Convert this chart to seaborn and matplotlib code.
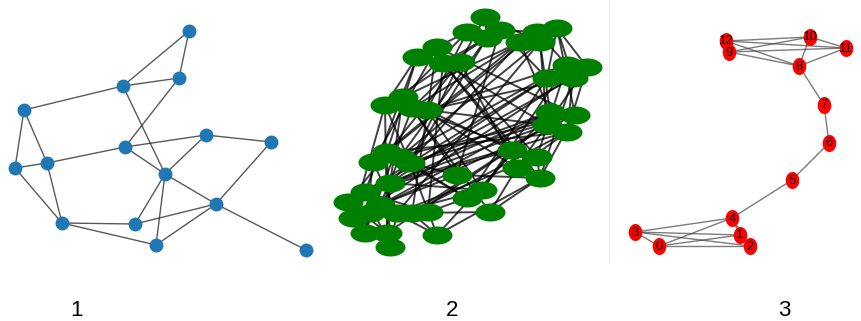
import numpy as np
import pandas as pd
import matplotlib
matplotlib.use("Agg")
import matplotlib.pyplot as plt
from matplotlib.path import Path
from matplotlib.collections import LineCollection
import seaborn as sns

# --- painel 1: grafo pequeno (coordenadas em pixels da imagem) ---
g1_x = [189, 179, 123, 24, 15, 47, 125, 206, 271, 165, 216, 62, 135, 156, 306]
g1_y = [31, 78, 86, 110, 168, 163, 147, 135, 142, 174, 204, 223, 224, 245, 250]
g1_arestas = [(0, 1), (0, 2), (1, 2), (2, 3), (2, 9), (1, 6), (3, 4), (3, 5),
              (4, 5), (5, 6), (4, 11), (5, 11), (6, 7), (7, 8), (6, 9), (7, 9),
              (9, 10), (8, 10), (9, 12), (9, 13), (10, 12), (10, 13), (10, 14),
              (11, 12), (11, 13)]

# --- painel 2: grafo aleatorio denso ---
g2_x = [485, 467, 500, 487, 520, 537, 557, 540, 437, 417, 443, 460, 587, 567,
        547, 573, 403, 385, 427, 412, 550, 575, 547, 567, 387, 373, 410, 400,
        457, 512, 537, 517, 540, 390, 365, 348, 353, 380, 397, 412, 428, 482,
        467, 490, 365, 387, 390, 437, 370]
g2_y = [17, 32, 30, 38, 42, 32, 28, 42, 47, 57, 63, 62, 67, 65, 78, 78, 97,
        105, 110, 108, 112, 115, 125, 132, 152, 162, 163, 157, 175, 150, 157,
        168, 178, 183, 192, 202, 218, 205, 213, 213, 212, 190, 198, 212, 233,
        233, 247, 235, 213]
g2_arestas = [(0, 3), (1, 9), (1, 16), (2, 14), (2, 28), (3, 17), (3, 26), (4, 20),
              (4, 33), (5, 13), (5, 24), (6, 21), (6, 15), (7, 22), (7, 38), (8, 25),
              (8, 30), (9, 34), (9, 17), (10, 29), (10, 40), (11, 31), (11, 19),
              (12, 23), (12, 36), (13, 27), (13, 41), (14, 35), (14, 42), (15, 32),
              (15, 18), (16, 33), (16, 43), (17, 36), (17, 45), (18, 22), (18, 29),
              (19, 30), (19, 44), (20, 26), (20, 37), (21, 32), (21, 25), (22, 39),
              (23, 31), (23, 24), (24, 46), (25, 44), (26, 47), (27, 42), (28, 37),
              (28, 32), (29, 34), (30, 38), (31, 43), (32, 47), (33, 41), (34, 46),
              (35, 45), (36, 40), (37, 47), (38, 41), (39, 43), (40, 42), (41, 29),
              (42, 24), (43, 32), (0, 11), (1, 18), (2, 10), (3, 27), (4, 16),
              (5, 19), (6, 14), (7, 20), (8, 21), (9, 24), (10, 22), (11, 26),
              (12, 14), (13, 30), (14, 33), (15, 23), (16, 31), (17, 26), (18, 41),
              (19, 28), (20, 35), (21, 36), (22, 34), (23, 39), (24, 25), (25, 38),
              (26, 28), (27, 37), (29, 31), (30, 32), (33, 45), (34, 40), (35, 48),
              (36, 44), (37, 48), (38, 46), (39, 47), (44, 48), (45, 46), (0, 7),
              (6, 12), (2, 5), (8, 39), (11, 35), (4, 25), (7, 27), (13, 18),
              (15, 34), (21, 26), (23, 33), (20, 47), (22, 45), (12, 31), (10, 32)]

# --- painel 3: grafo barbell (dois K5 ligados por caminho) ---
g3_rotulos = ['0', '1', '2', '3', '4', '5', '6', '7', '8', '9', '10', '11', '12']
g3_x = [659, 740, 750, 635, 732, 792, 829, 824, 799, 729, 810, 846, 726]
g3_y = [246, 235, 246, 232, 218, 180, 143, 105, 66, 52, 37, 48, 41]
g3_arestas = [(0, 1), (0, 2), (0, 3), (0, 4), (1, 2), (1, 3), (1, 4), (2, 3),
              (2, 4), (3, 4), (4, 5), (5, 6), (6, 7), (7, 8),
              (8, 9), (8, 10), (8, 11), (8, 12), (9, 10), (9, 11), (9, 12),
              (10, 11), (10, 12), (11, 12)]

titulos = ['1', '2', '3']
titulos_x = [77, 452, 784]


def marcador_elipse(rx, ry):
    t = np.linspace(0, 2 * np.pi, 60)
    return Path(np.column_stack([rx * np.cos(t), ry * np.sin(t)]), closed=True)


def desenha_arestas(ax, xs, ys, arestas, cor, largura, alpha):
    segs = [[(xs[a], ys[a]), (xs[b], ys[b])] for a, b in arestas]
    ax.add_collection(LineCollection(segs, colors=cor, linewidths=largura,
                                     alpha=alpha, zorder=1))


sns.set_style("white")
plt.rcParams['font.family'] = ['Liberation Sans Narrow', 'Liberation Sans', 'DejaVu Sans']

fig = plt.figure(figsize=(8.61, 3.21), dpi=100)
ax = fig.add_axes([0, 0, 1, 1])
ax.set_xlim(0, 861)
ax.set_ylim(321, 0)
ax.axis('off')

# linha clara separando painel 3
ax.plot([609, 609], [0, 263], color='#eeeeee', linewidth=0.8, zorder=0)

# painel 1
desenha_arestas(ax, g1_x, g1_y, g1_arestas, '#222222', 1.0, 0.75)
sns.scatterplot(x=g1_x, y=g1_y, ax=ax, color='#1f77b4', s=100,
                linewidth=0, zorder=2, legend=False)

# painel 2
desenha_arestas(ax, g2_x, g2_y, g2_arestas, 'black', 1.4, 0.75)
sns.scatterplot(x=g2_x, y=g2_y, ax=ax, color='green', s=467,
                marker=marcador_elipse(1.0, 0.6), linewidth=0, zorder=2,
                legend=False)

# painel 3
desenha_arestas(ax, g3_x, g3_y, g3_arestas, '#444444', 1.0, 0.7)
sns.scatterplot(x=g3_x, y=g3_y, ax=ax, color='red', s=150,
                marker=marcador_elipse(0.8, 1.0), linewidth=0, zorder=2,
                legend=False)
for rot, x, y in zip(g3_rotulos, g3_x, g3_y):
    ax.text(x, y + 0.5, rot, ha='center', va='center', fontsize=9.5,
            color='#111111', zorder=3)

for t, x in zip(titulos, titulos_x):
    ax.text(x, 310, t, ha='center', va='center', fontsize=16, color='black')

fig.savefig('out.png', dpi=100)
